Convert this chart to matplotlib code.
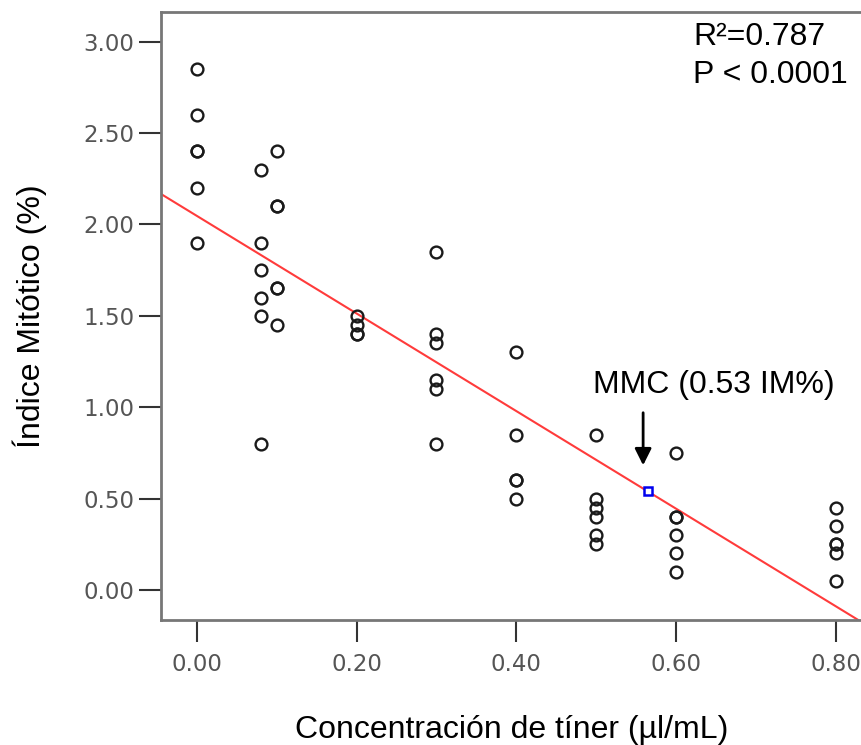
import matplotlib
matplotlib.use('Agg')
import matplotlib.pyplot as plt
import numpy as np

# concentrations (ul/mL) and mitotic index (%)
conc_0 = [0.00] * 6
im_0 = [2.85, 2.60, 2.40, 2.40, 2.20, 1.90]
conc_008 = [0.08] * 6
im_008 = [2.30, 1.90, 1.75, 1.60, 1.50, 0.80]
conc_010 = [0.10] * 6
im_010 = [2.40, 2.10, 2.10, 1.65, 1.65, 1.45]
conc_020 = [0.20] * 4
im_020 = [1.50, 1.45, 1.40, 1.40]
conc_030 = [0.30] * 6
im_030 = [1.85, 1.40, 1.35, 1.15, 1.10, 0.80]
conc_040 = [0.40] * 5
im_040 = [1.30, 0.85, 0.60, 0.60, 0.50]
conc_050 = [0.50] * 6
im_050 = [0.85, 0.50, 0.45, 0.40, 0.30, 0.25]
conc_060 = [0.60] * 6
im_060 = [0.75, 0.40, 0.40, 0.30, 0.20, 0.10]
conc_080 = [0.80] * 6
im_080 = [0.45, 0.35, 0.25, 0.25, 0.20, 0.05]

# regression line
fit_intercept = 2.047
fit_slope = -2.671

# MMC point
mmc_x = 0.565
mmc_y = 0.54

xticks = [0.0, 0.2, 0.4, 0.6, 0.8]
yticks = [0.0, 0.5, 1.0, 1.5, 2.0, 2.5, 3.0]

x_all = conc_0 + conc_008 + conc_010 + conc_020 + conc_030 + conc_040 + conc_050 + conc_060 + conc_080
y_all = im_0 + im_008 + im_010 + im_020 + im_030 + im_040 + im_050 + im_060 + im_080

fig = plt.figure(figsize=(8.62, 7.45), dpi=100)
ax = fig.add_axes([0.1868, 0.1678, 0.8132, 0.8161])

xmin, xmax = -0.0447, 0.8325
ymin, ymax = -0.164, 3.162

lx = np.array([xmin, xmax])
ax.plot(lx, fit_intercept + fit_slope * lx, color='#ff3b3b', lw=1.5, zorder=2)

ax.plot(x_all, y_all, linestyle='none', marker='o', ms=8.5, mfc='none',
        mec='#1a1a1a', mew=1.7, zorder=3)

ax.plot([mmc_x], [mmc_y], linestyle='none', marker='s', ms=6, mfc='white',
        mec='#0000ee', mew=1.8, zorder=4)

ax.set_xlim(xmin, xmax)
ax.set_ylim(ymin, ymax)
ax.set_xticks(xticks)
ax.set_yticks(yticks)
ax.set_xticklabels(['%.2f' % v for v in xticks], family='DejaVu Sans')
ax.set_yticklabels(['%.2f' % v for v in yticks], family='DejaVu Sans')

for s in ['left', 'bottom', 'top']:
    ax.spines[s].set_color('#777777')
    ax.spines[s].set_linewidth(2)
ax.spines['right'].set_visible(False)

ax.tick_params(axis='x', length=16, width=1.5, color='#333333', pad=8,
               labelsize=16.5, labelcolor='#555555')
ax.tick_params(axis='y', length=16, width=1.5, color='#333333', pad=3,
               labelsize=16.5, labelcolor='#555555')

lab_font = 'Liberation Sans'
ax.set_xlabel('Concentración de tíner (µl/mL)', fontsize=23, family=lab_font, labelpad=28)
ax.set_ylabel('Índice Mitótico (%)', fontsize=23, family=lab_font, labelpad=26)

ax.text(0.621, 3.025, 'R²=0.787', fontsize=23, family=lab_font, va='center', ha='left')
ax.text(0.621, 2.817, 'P < 0.0001', fontsize=23, family=lab_font, va='center', ha='left')

ax.text(0.496, 1.12, 'MMC (0.53 IM%)', fontsize=23, family=lab_font, va='center', ha='left')
ax.annotate('', xy=(0.5586, 0.667), xytext=(0.5586, 0.985),
            arrowprops=dict(arrowstyle='-|>', mutation_scale=25, lw=2, color='black'))

fig.savefig('out.png', dpi=100)
